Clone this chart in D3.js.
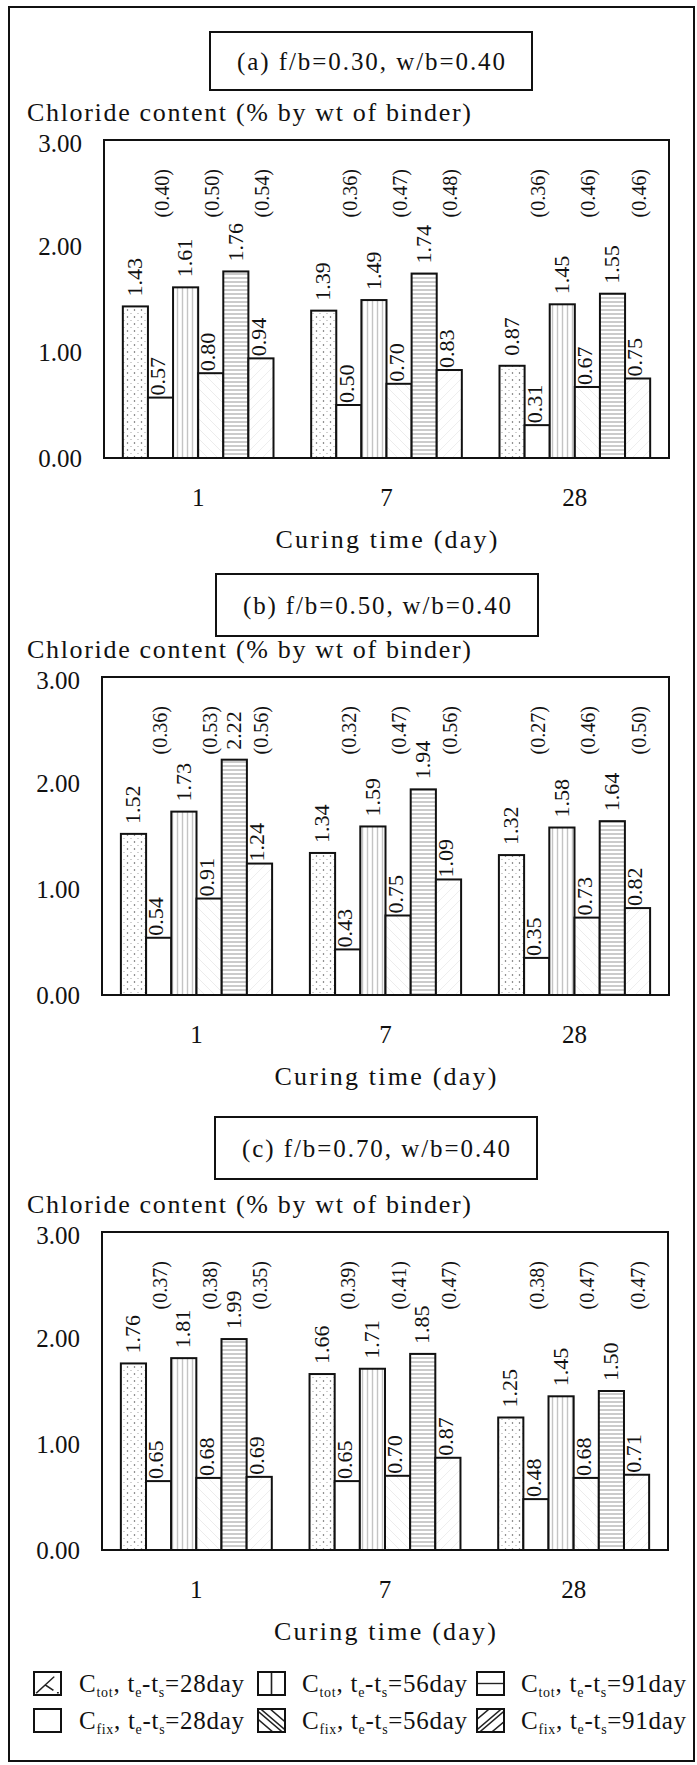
<!DOCTYPE html>
<html>
<head>
<meta charset="utf-8">
<script src="https://cdn.jsdelivr.net/npm/d3@7"></script>
<style>
body { margin: 0; background: #fff; }
svg text { font-family: "Liberation Serif", serif; fill: #111; }
</style>
</head>
<body>
<svg id="chart"></svg>
<script>
// ---- data ----
const categories = ["1", "7", "28"];
const series = ["tot28", "fix28", "tot56", "fix56", "tot91", "fix91"];
const seriesKind = ["tot", "fix", "tot", "fix", "tot", "fix"];
const seriesDur = ["28", "28", "56", "56", "91", "91"];
const panelTitles = ["(a) f/b=0.30, w/b=0.40", "(b) f/b=0.50, w/b=0.40", "(c) f/b=0.70, w/b=0.40"];
const yTicks = [0, 1, 2, 3];

// one row per curing day, columns in series order
const valuesA = [
    [1.43, 0.57, 1.61, 0.80, 1.76, 0.94],
    [1.39, 0.50, 1.49, 0.70, 1.74, 0.83],
    [0.87, 0.31, 1.45, 0.67, 1.55, 0.75]
];
const valuesB = [
    [1.52, 0.54, 1.73, 0.91, 2.22, 1.24],
    [1.34, 0.43, 1.59, 0.75, 1.94, 1.09],
    [1.32, 0.35, 1.58, 0.73, 1.64, 0.82]
];
const valuesC = [
    [1.76, 0.65, 1.81, 0.68, 1.99, 0.69],
    [1.66, 0.65, 1.71, 0.70, 1.85, 0.87],
    [1.25, 0.48, 1.45, 0.68, 1.50, 0.71]
];
// Cfix/Ctot labels printed above the Cfix bars
const ratiosA = [["(0.40)", "(0.50)", "(0.54)"], ["(0.36)", "(0.47)", "(0.48)"], ["(0.36)", "(0.46)", "(0.46)"]];
const ratiosB = [["(0.36)", "(0.53)", "(0.56)"], ["(0.32)", "(0.47)", "(0.56)"], ["(0.27)", "(0.46)", "(0.50)"]];
const ratiosC = [["(0.37)", "(0.38)", "(0.35)"], ["(0.39)", "(0.41)", "(0.47)"], ["(0.38)", "(0.47)", "(0.47)"]];

const panelValues = [valuesA, valuesB, valuesC];
const panelRatios = [ratiosA, ratiosB, ratiosC];

// ---- layout ----
const width = 697, height = 1765;
const plotH = 318;
const layout = [
    { top: 140, left: 104, right: 669, box: [210, 32, 322, 58] },
    { top: 677, left: 102, right: 669, box: [216, 574, 322, 62] },
    { top: 1232, left: 102, right: 668, box: [215, 1117, 322, 62] }
];

const svg = d3.select("#chart").attr("width", width).attr("height", height)
    .attr("font-family", "Liberation Serif");
const fmt = d3.format(".2f");

// ---- fill patterns ----
const defs = svg.append("defs");

function linePattern(id, size, d, color, w) {
    const p = defs.append("pattern").attr("id", id)
        .attr("patternUnits", "userSpaceOnUse")
        .attr("width", size).attr("height", size);
    p.append("rect").attr("width", size).attr("height", size).attr("fill", "#fff");
    p.append("path").attr("d", d).attr("stroke", color).attr("stroke-width", w).attr("fill", "none");
    return p;
}

const dots = defs.append("pattern").attr("id", "p-tot28")
    .attr("patternUnits", "userSpaceOnUse").attr("width", 7).attr("height", 7);
dots.append("rect").attr("width", 7).attr("height", 7).attr("fill", "#fff");
dots.append("circle").attr("cx", 1.5).attr("cy", 2).attr("r", 0.75).attr("fill", "#555");
dots.append("circle").attr("cx", 5).attr("cy", 5.5).attr("r", 0.6).attr("fill", "#999");

linePattern("p-tot56", 5, "M2.5,0V5", "#c4c4c4", 1.4);
linePattern("p-tot91", 4, "M0,2H4", "#a9a9a9", 1.2);
linePattern("p-fix56", 10, "M0,0L10,10", "#ececec", 1);
linePattern("p-fix91", 10, "M0,10L10,0", "#eeeeee", 1);

// legend swatches: sparse dark strokes, drawn in the swatch's own box
function swatchPattern(id, d) {
    const p = defs.append("pattern").attr("id", id)
        .attr("patternUnits", "objectBoundingBox")
        .attr("patternContentUnits", "objectBoundingBox")
        .attr("width", 1).attr("height", 1);
    p.append("rect").attr("width", 1).attr("height", 1).attr("fill", "#fff");
    p.append("path").attr("d", d).attr("stroke", "#222").attr("stroke-width", 0.06).attr("fill", "none");
}
swatchPattern("l-tot28", "M0.08,0.92L0.75,0.2M0.4,0.55L0.72,0.8M0.85,0.9L0.92,0.9");
swatchPattern("l-fix28", "");
swatchPattern("l-tot56", "M0.5,0V1");
swatchPattern("l-tot91", "M0,0.5H1");
swatchPattern("l-fix56", "M0,0.1L0.9,1M0.1,0L1,0.9M0.45,0L1,0.55M0,0.45L0.55,1");
swatchPattern("l-fix91", "M0,0.9L0.9,0M0.1,1L1,0.1M0,0.45L0.45,0M0.55,1L1,0.55");

function barFill(s) {
    return s === "fix28" ? "#fff" : `url(#p-${s})`;
}

// ---- panels ----
layout.forEach((L, pi) => {
    const values = panelValues[pi];
    const ratios = panelRatios[pi];
    const g = svg.append("g");

    const y = d3.scaleLinear().domain([0, 3]).range([L.top + plotH, L.top]);
    const x0 = d3.scaleBand().domain(categories).range([L.left, L.right])
        .paddingInner(0.2).paddingOuter(0.1);
    const x1 = d3.scaleBand().domain(series).range([0, x0.bandwidth()]);

    // title box
    const [bx, by, bw, bh] = L.box;
    g.append("rect").attr("x", bx).attr("y", by).attr("width", bw).attr("height", bh)
        .attr("fill", "none").attr("stroke", "#111").attr("stroke-width", 2);
    g.append("text").attr("x", bx + bw / 2).attr("y", by + bh / 2 + 9)
        .attr("text-anchor", "middle").attr("font-size", 25)
        .attr("textLength", 268).attr("lengthAdjust", "spacing")
        .text(panelTitles[pi]);

    // y title
    g.append("text").attr("x", 27).attr("y", L.top - 19)
        .attr("font-size", 26).attr("textLength", 444).attr("lengthAdjust", "spacing")
        .text("Chloride content (% by wt of binder)");

    // bars
    const rows = categories.flatMap((c, ci) => series.map((s, si) => ({
        cat: c, s: s, kind: seriesKind[si], v: values[ci][si]
    })));

    g.append("g").selectAll("rect").data(rows).join("rect")
        .attr("x", d => x0(d.cat) + x1(d.s))
        .attr("y", d => y(d.v))
        .attr("width", x1.bandwidth())
        .attr("height", d => y(0) - y(d.v))
        .attr("fill", d => barFill(d.s))
        .attr("stroke", "#111").attr("stroke-width", 2);

    // value labels, rotated
    g.append("g").selectAll("text").data(rows).join("text")
        .attr("transform", d => {
            const cx = x0(d.cat) + x1(d.s) + x1.bandwidth() / 2 + (d.kind === "tot" ? -1 : -3);
            const cy = y(d.v) - (d.kind === "tot" ? 10 : 2);
            return `translate(${cx},${cy}) rotate(-90)`;
        })
        .attr("dy", "0.35em").attr("font-size", 22)
        .text(d => fmt(d.v));

    // ratio labels above the Cfix bars
    const ratioRows = categories.flatMap((c, ci) => ["fix28", "fix56", "fix91"].map((s, k) => ({
        cat: c, s: s, t: ratios[ci][k]
    })));
    g.append("g").selectAll("text").data(ratioRows).join("text")
        .attr("transform", d => {
            const cx = x0(d.cat) + x1(d.s) + x1.bandwidth() / 2 + 1;
            return `translate(${cx},${y(2.27)}) rotate(-90)`;
        })
        .attr("dy", "0.35em").attr("font-size", 20)
        .text(d => d.t);

    // plot frame
    g.append("rect").attr("x", L.left).attr("y", L.top)
        .attr("width", L.right - L.left).attr("height", plotH)
        .attr("fill", "none").attr("stroke", "#111").attr("stroke-width", 2);

    // axes
    const ya = g.append("g").attr("transform", `translate(${L.left},0)`)
        .call(d3.axisLeft(y).tickValues(yTicks).tickFormat(fmt).tickSize(0).tickPadding(22));
    ya.select(".domain").remove();
    ya.attr("font-family", null).attr("font-size", 25);
    ya.selectAll(".tick text").attr("dy", d => d === 3 ? "0.45em" : "0.32em");

    const xa = g.append("g").attr("transform", `translate(0,${L.top + plotH})`)
        .call(d3.axisBottom(x0).tickSize(0).tickPadding(30));
    xa.select(".domain").remove();
    xa.attr("font-family", null).attr("font-size", 25);

    g.append("text").attr("x", (L.left + L.right) / 2).attr("y", L.top + plotH + 90)
        .attr("text-anchor", "middle").attr("font-size", 26)
        .attr("textLength", 222).attr("lengthAdjust", "spacing")
        .text("Curing time (day)");
});

// ---- legend ----
const legendCols = { "28": [34, 79], "56": [258, 302], "91": [477, 521] };
const legendRows = { tot: 1672, fix: 1709 };

const items = svg.append("g").selectAll("g").data(series).join("g")
    .attr("transform", (s, i) => `translate(0,${legendRows[seriesKind[i]]})`);

items.append("rect")
    .attr("x", (s, i) => legendCols[seriesDur[i]][0])
    .attr("width", 27).attr("height", 23)
    .attr("fill", s => `url(#l-${s})`)
    .attr("stroke", "#111").attr("stroke-width", 2);

const lt = items.append("text")
    .attr("x", (s, i) => legendCols[seriesDur[i]][1])
    .attr("y", 20).attr("font-size", 25)
    .attr("textLength", 165).attr("lengthAdjust", "spacing");
lt.append("tspan").text("C");
lt.append("tspan").attr("font-size", 14).attr("dy", 5).text((s, i) => seriesKind[i] === "tot" ? "tot" : "fix");
lt.append("tspan").attr("dy", -5).text(", t");
lt.append("tspan").attr("font-size", 14).attr("dy", 5).text("e");
lt.append("tspan").attr("dy", -5).text("-t");
lt.append("tspan").attr("font-size", 14).attr("dy", 5).text("s");
lt.append("tspan").attr("dy", -5).text((s, i) => `=${seriesDur[i]}day`);

// outer frame
svg.append("rect").attr("x", 9).attr("y", 7).attr("width", 685).attr("height", 1754)
    .attr("fill", "none").attr("stroke", "#111").attr("stroke-width", 2);
</script>
</body>
</html>
